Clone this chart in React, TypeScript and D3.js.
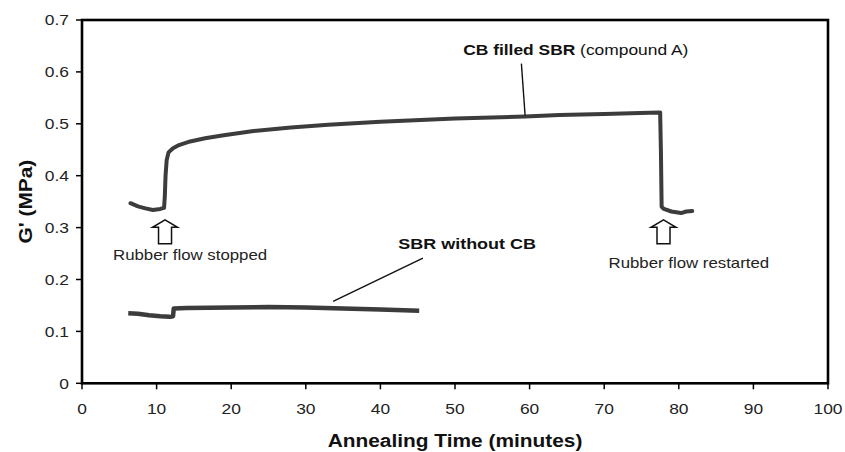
import React from "react";
import * as d3 from "d3";

// ---- data ----
const cbTime = [6.5, 7.5, 8.5, 9.5, 10.5, 11.0, 11.1, 11.2, 11.35, 11.6, 12.2, 13, 14.5, 16.5, 19, 23, 28, 33, 40, 50, 59.4, 64, 70, 74.8, 77.5, 77.6, 77.7, 78, 79, 80.3, 81, 81.8];
const cbG = [0.347, 0.341, 0.337, 0.334, 0.336, 0.338, 0.36, 0.40, 0.43, 0.445, 0.453, 0.459, 0.466, 0.472, 0.478, 0.486, 0.493, 0.498, 0.504, 0.510, 0.514, 0.517, 0.519, 0.521, 0.522, 0.45, 0.34, 0.336, 0.331, 0.328, 0.331, 0.332];

const sbrTime = [6.2, 7.5, 9, 10.5, 11.8, 12.2, 12.3, 14, 20, 25, 30, 35, 40, 45.2];
const sbrG = [0.135, 0.134, 0.131, 0.129, 0.128, 0.129, 0.144, 0.145, 0.146, 0.147, 0.146, 0.144, 0.142, 0.140];

const xTicks = [0, 10, 20, 30, 40, 50, 60, 70, 80, 90, 100];
const yTicks = [0, 0.1, 0.2, 0.3, 0.4, 0.5, 0.6, 0.7];
const yTickLabels = ["0", "0.1", "0.2", "0.3", "0.4", "0.5", "0.6", "0.7"];

const xTitle = "Annealing Time (minutes)";
const yTitle = "G' (MPa)";
const arrowTimes = [11.13, 77.95];
const arrowLabels = ["Rubber flow stopped", "Rubber flow restarted"];

export default function App() {
  const W = 845, H = 452;
  const x = d3.scaleLinear().domain([0, 100]).range([82, 828]);
  const y = d3.scaleLinear().domain([0, 0.7]).range([383.3, 20]);
  const line = d3.line<[number, number]>().x(d => x(d[0])).y(d => y(d[1]));
  const cbPts: [number, number][] = cbTime.map((t, i) => [t, cbG[i]]);
  const sbrPts: [number, number][] = sbrTime.map((t, i) => [t, sbrG[i]]);
  const font = "'Liberation Sans', Arial, Helvetica, sans-serif";
  const SX = 1.16;
  const curveColor = "#3c3c3c";

  const arrow = (t: number, key: number) => {
    const cx = x(t);
    const tip = y(0.315);
    const hw = 12.5, sw = 6.5, hh = 7.5, len = 24;
    const d = `M${cx},${tip} L${cx + hw},${tip + hh} L${cx + sw},${tip + hh} L${cx + sw},${tip + len} L${cx - sw},${tip + len} L${cx - sw},${tip + hh} L${cx - hw},${tip + hh} Z`;
    return <path key={key} d={d} fill="#fff" stroke="#111" strokeWidth={1.5} strokeLinejoin="miter" />;
  };

  return (
    <svg width={W} height={H} style={{ position: "absolute", left: 0, top: 0, background: "#fff" }} fontFamily={font}>
      <rect x={0} y={0} width={W} height={H} fill="#fff" />
      {/* curves */}
      <path d={line(cbPts) || ""} fill="none" stroke={curveColor} strokeWidth={4} strokeLinejoin="round" strokeLinecap="round" />
      <path d={line(sbrPts) || ""} fill="none" stroke={curveColor} strokeWidth={4.5} strokeLinejoin="round" strokeLinecap="butt" />

      {/* frame */}
      <rect x={x(0)} y={y(0.7)} width={x(100) - x(0)} height={y(0) - y(0.7)} fill="none" stroke="#000" strokeWidth={2.6} />

      {/* x ticks */}
      {xTicks.map(t => (
        <g key={"x" + t}>
          <line x1={x(t)} x2={x(t)} y1={y(0)} y2={y(0) + 6} stroke="#000" strokeWidth={1.5} />
          <text transform={`translate(${x(t)},${413.5}) scale(${SX},1)`} textAnchor="middle" fontSize={15} fill="#222">{t}</text>
        </g>
      ))}
      {/* y ticks */}
      {yTicks.map((v, i) => (
        <g key={"y" + v}>
          <line x1={x(0) - 6} x2={x(0)} y1={y(v)} y2={y(v)} stroke="#000" strokeWidth={1.5} />
          <text transform={`translate(${69},${y(v) + 5.3}) scale(${SX},1)`} textAnchor="end" fontSize={15} fill="#222">{yTickLabels[i]}</text>
        </g>
      ))}

      {/* axis titles */}
      <text transform={`translate(${(x(0) + x(100)) / 2},${446.5}) scale(${SX},1)`} textAnchor="middle" fontSize={18} fontWeight="bold" fill="#111">{xTitle}</text>
      <text transform={`translate(${32},${(y(0) + y(0.7)) / 2}) rotate(-90) scale(${SX},1)`} textAnchor="middle" fontSize={18} fontWeight="bold" fill="#111">{yTitle}</text>

      {/* series labels and leaders */}
      <line x1={x(58.9)} y1={y(0.616)} x2={x(59.4)} y2={y(0.516)} stroke="#111" strokeWidth={1.4} />
      <text transform={`translate(${x(51.1)},${55}) scale(${SX},1)`} fontSize={15} fill="#111">
        <tspan fontWeight="bold">CB filled SBR</tspan>
        <tspan> (compound A)</tspan>
      </text>
      <line x1={x(45.7)} y1={y(0.241)} x2={x(33.66)} y2={y(0.158)} stroke="#111" strokeWidth={1.4} />
      <text transform={`translate(${x(42.4)},${248.5}) scale(${SX},1)`} fontSize={15.5} fontWeight="bold" fill="#111">SBR without CB</text>

      {/* arrows */}
      {arrowTimes.map((t, i) => arrow(t, i))}
      <text transform={`translate(${113},${260}) scale(${SX},1)`} fontSize={14.5} fill="#222">{arrowLabels[0]}</text>
      <text transform={`translate(${608.5},${268}) scale(${SX},1)`} fontSize={14.5} fill="#222">{arrowLabels[1]}</text>
    </svg>
  );
}
